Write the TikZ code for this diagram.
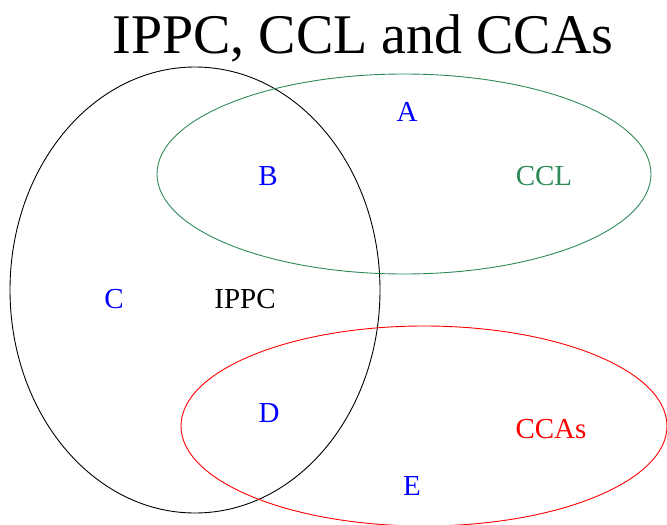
\documentclass[tikz,border=0pt]{standalone}
\usepackage{fontspec}
\setmainfont{Liberation Serif}
\usepackage{xcolor}
\usetikzlibrary{positioning}
\definecolor{regionBlue}{HTML}{0000FF}
\definecolor{cclGreen}{HTML}{2E8B57}
\definecolor{ccaRed}{HTML}{FF0000}

\begin{document}
\begin{tikzpicture}[
    x=1pt, y=-1pt,
    lbl/.style={font=\fontsize{29}{32}\selectfont, inner sep=0pt},
    region/.style={lbl, text=regionBlue},
    setline/.style={line width=0.9pt},
  ]
    \useasboundingbox (0,0) rectangle (667,525);

    \node[font=\fontsize{56}{60}\selectfont, inner sep=0pt, anchor=base]
      (title) at (363,53) {IPPC, CCL and CCAs};

    % the three sets
    \draw[setline, black]    (195,290) ellipse [x radius=185, y radius=223];
    \draw[setline, cclGreen] (404,174) ellipse [x radius=247, y radius=100];
    \draw[setline, ccaRed]   (424,426) ellipse [x radius=243, y radius=100];

    \node[lbl]                (ippc) at (245,299) {IPPC};
    \node[lbl, text=cclGreen] (ccl)  at (544,176) {CCL};
    \node[lbl, text=ccaRed]   (ccas) at (551,429) {CCAs};

    \node[region] (a) at (407,112) {A};
    \node[region] (b) at (268,176) {B};
    \node[region] (c) at (114,299) {C};
    \node[region] (d) at (269,413) {D};
    \node[region] (e) at (412,486) {E};
  \end{tikzpicture}
\end{document}
